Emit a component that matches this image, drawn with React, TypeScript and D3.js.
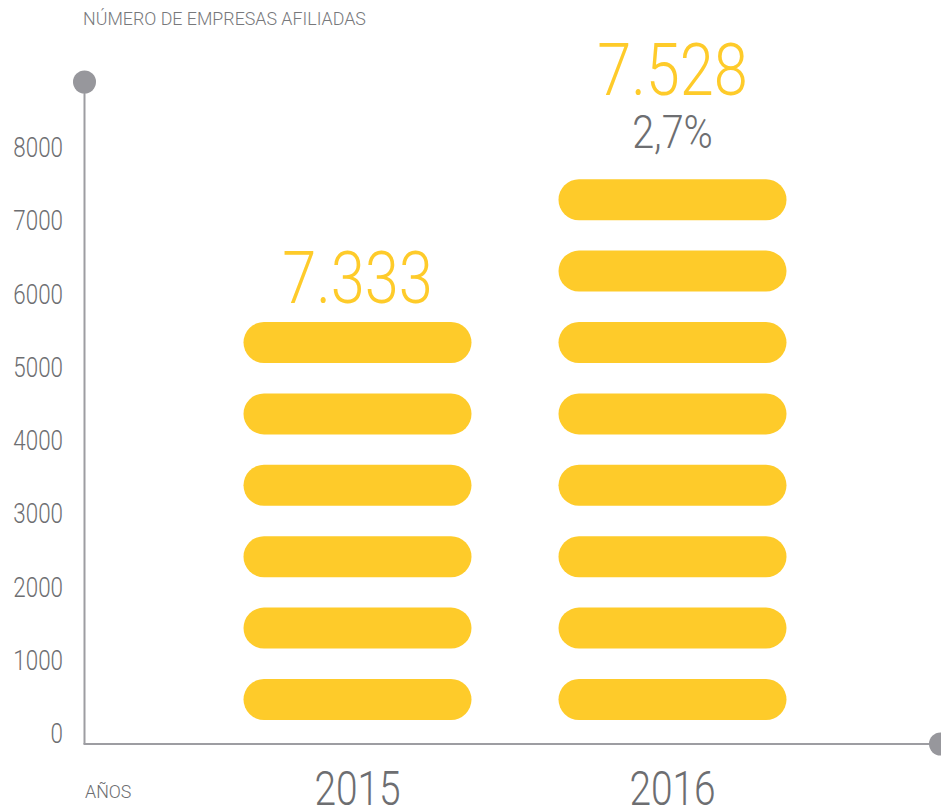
import React from "react";
import * as d3 from "d3";

const years = ["2015", "2016"];
const values = [7333, 7528];
const pillCounts = [6, 8];
const yTicks = [0, 1000, 2000, 3000, 4000, 5000, 6000, 7000, 8000];
const titleText = "NÚMERO DE EMPRESAS AFILIADAS";
const xAxisLabel = "AÑOS";

const W = 941;
const H = 810;
const FONT = "Roboto, 'Liberation Sans', sans-serif";
const YELLOW = "#FECB2A";
const GRAY_TEXT = "#6D6E71";
const AXIS = "#9D9DA2";

const locale = d3.formatLocale({ decimal: ",", thousands: ".", grouping: [3], currency: ["", ""] });
const fmtNum = locale.format(",");
const fmtPct = locale.format(".1%");

type TProps = {
  x: number;
  y: number;
  size: number;
  fill: string;
  sx?: number;
  anchor?: "start" | "middle" | "end";
  children: React.ReactNode;
};

function CText({ x, y, size, fill, sx = 0.8, anchor = "start", children }: TProps) {
  return (
    <text
      transform={`translate(${x},${y}) scale(${sx},1)`}
      textAnchor={anchor}
      fontSize={size}
      fontWeight={300}
      fill={fill}
    >
      {children}
    </text>
  );
}

export default function App() {
  const axisX = 84.5;
  const axisY = 744;
  const y = d3.scaleLinear().domain([0, 8000]).range([743, 157]);
  const x = d3.scalePoint<string>().domain(years).range([200, 830]).padding(0.5);
  const maxPills = d3.max(pillCounts) as number;
  const pillY = d3.scaleLinear().domain([0, maxPills - 1]).range([699.5, 199.7]);
  const pillW = 228;
  const pillH = 41;

  const growth = values[1] / values[0] - 1;

  return (
    <div style={{ position: "absolute", left: 0, top: 0, width: W, height: H, background: "#fff" }}>
      <svg width={W} height={H} style={{ display: "block" }} fontFamily={FONT}>
        <CText x={83} y={25} size={18} sx={0.99} fill="#77787B">{titleText}</CText>

        {/* axes */}
        <line x1={axisX} x2={axisX} y1={82} y2={axisY} stroke={AXIS} strokeWidth={2} />
        <line x1={axisX - 1} x2={940} y1={axisY} y2={axisY} stroke={AXIS} strokeWidth={2} />
        <circle cx={axisX} cy={82} r={11.5} fill="#97979C" />
        <circle cx={940.5} cy={axisY} r={11.5} fill="#97979C" />

        {yTicks.map((t) => (
          <CText key={t} x={63} y={y(t)} anchor="end" size={28} fill={GRAY_TEXT}>
            {t}
          </CText>
        ))}

        {years.map((yr, i) => {
          const cx = x(yr) as number;
          const n = pillCounts[i];
          const topPillY = pillY(n - 1) - pillH / 2;
          return (
            <g key={yr}>
              {d3.range(n).map((k) => (
                <rect
                  key={k}
                  x={cx - pillW / 2}
                  y={pillY(k) - pillH / 2}
                  width={pillW}
                  height={pillH}
                  rx={pillH / 2}
                  ry={pillH / 2}
                  fill={YELLOW}
                />
              ))}
              <CText x={cx} y={805} anchor="middle" size={48} sx={0.81} fill={GRAY_TEXT}>
                {yr}
              </CText>
              {i === 0 ? (
                <CText x={cx} y={topPillY - 19} anchor="middle" size={73} sx={0.84} fill={YELLOW}>
                  {fmtNum(values[i])}
                </CText>
              ) : (
                <>
                  <CText x={cx} y={topPillY - 84} anchor="middle" size={73} sx={0.84} fill={YELLOW}>
                    {fmtNum(values[i])}
                  </CText>
                  <CText x={cx} y={topPillY - 31} anchor="middle" size={46} sx={0.86} fill={GRAY_TEXT}>
                    {fmtPct(growth)}
                  </CText>
                </>
              )}
            </g>
          );
        })}

        <CText x={85} y={798} size={18} sx={0.99} fill={GRAY_TEXT}>{xAxisLabel}</CText>
      </svg>
    </div>
  );
}
